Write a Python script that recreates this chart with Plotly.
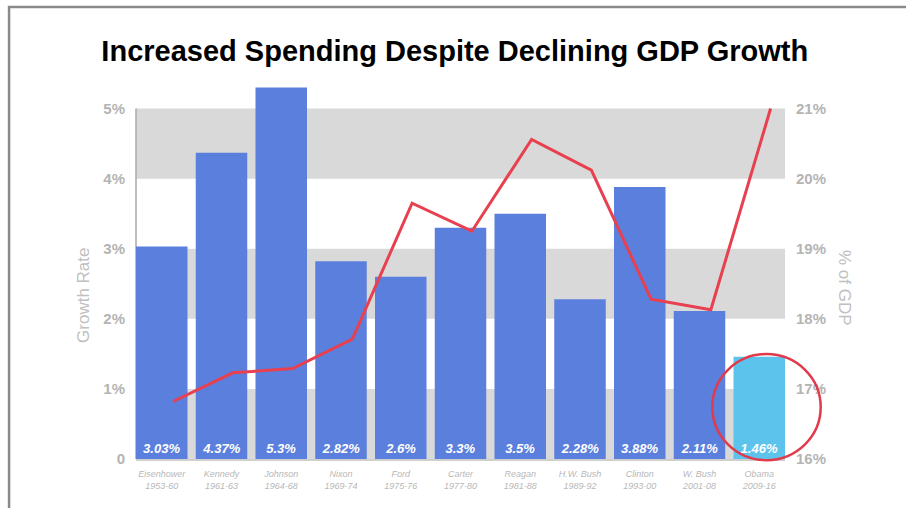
import plotly.graph_objects as go

# Presidential terms
presidents = ["Eisenhower", "Kennedy", "Johnson", "Nixon", "Ford", "Carter",
              "Reagan", "H.W. Bush", "Clinton", "W. Bush", "Obama"]
terms = ["1953-60", "1961-63", "1964-68", "1969-74", "1975-76", "1977-80",
         "1981-88", "1989-92", "1993-00", "2001-08", "2009-16"]

# Average real GDP growth per term (%)
gdp_growth = [3.03, 4.37, 5.3, 2.82, 2.6, 3.3, 3.5, 2.28, 3.88, 2.11, 1.46]

# Federal spending as share of GDP (%)
spending_pct_gdp = [16.82, 17.23, 17.29, 17.71, 19.65, 19.25, 20.56, 20.12, 18.28, 18.13, 21.0]

# Axis ticks
growth_ticks = [0, 1, 2, 3, 4, 5]
growth_ticktext = ["0", "1%", "2%", "3%", "4%", "5%"]
spend_ticks = [16, 17, 18, 19, 20, 21]
spend_ticktext = ["16%", "17%", "18%", "19%", "20%", "21%"]

BLUE = "#5b7fdc"
HIGHLIGHT = "#5cc4ec"
RED = "#e8404f"
BAND = "#d9d9d9"
AXIS_GREY = "#b4b4b4"
FONT = "Liberation Sans"

categories = [f"{p}<br>{t}" for p, t in zip(presidents, terms)]
bar_colors = [BLUE] * (len(presidents) - 1) + [HIGHLIGHT]

fig = go.Figure()

fig.add_trace(go.Bar(
    x=categories,
    y=gdp_growth,
    marker=dict(color=bar_colors, line=dict(width=0)),
    text=[f"{v}%" for v in gdp_growth],
    textposition="inside",
    insidetextanchor="start",
    textangle=0,
    constraintext="none",
    textfont=dict(family=FONT, size=13, color="white", weight="bold", style="italic"),
    xaxis="x",
    yaxis="y",
    hoverinfo="skip",
))

fig.add_trace(go.Scatter(
    x=categories,
    y=spending_pct_gdp,
    mode="lines",
    line=dict(color=RED, width=3),
    xaxis="x2",
    yaxis="y2",
    hoverinfo="skip",
))

Y_TOP = 5.35
X_PAD = 0.069        # half of the gap between bars, so outer bars sit flush with the frame
LINE_SHIFT = 0.19    # spending line is drawn slightly right of bar centres

# Alternating horizontal bands behind the bars
shapes = []
for lo in growth_ticks[:-1:2]:
    shapes.append(dict(type="rect", xref="paper", yref="y", x0=0, x1=1, y0=lo, y1=lo + 1,
                       fillcolor=BAND, line=dict(width=0), layer="below"))
# left axis rule
shapes.append(dict(type="line", xref="paper", yref="y", x0=0, x1=0, y0=0, y1=growth_ticks[-1],
                   line=dict(color="#a8a8a8", width=1.5), layer="below"))
# outer frame (top and left edges)
shapes.append(dict(type="path", xref="paper", yref="paper",
                   path="M -0.1956 -0.2 L -0.1956 1.2053 L 1.2 1.2053",
                   line=dict(color="#8a8a8a", width=2.5)))
# highlight ring around the latest term
shapes.append(dict(type="circle", xref="paper", yref="paper",
                   x0=0.888, x1=1.055, y0=-0.003, y1=0.28,
                   line=dict(color="#e03a4c", width=2.5), layer="above"))

fig.update_layout(
    width=906,
    height=508,
    margin=dict(l=136, r=121, t=84, b=49),
    paper_bgcolor="white",
    plot_bgcolor="white",
    showlegend=False,
    font=dict(family=FONT),
    bargap=2 * X_PAD,
    title=dict(
        text="<b>Increased Spending Despite Declining GDP Growth</b>",
        font=dict(family=FONT, size=29, color="black"),
        x=0.502, xanchor="center", xref="container",
        y=1 - 51 / 508, yanchor="middle", yref="container",
    ),
    xaxis=dict(
        type="category",
        range=[-0.5 + X_PAD, len(categories) - 0.5 - X_PAD],
        showgrid=False,
        zeroline=False,
        showline=True,
        linecolor="#cfcfcf",
        linewidth=2,
        ticks="",
        tickfont=dict(family=FONT, size=9, color="#b8b8b8", style="italic"),
        ticklabelstandoff=5,
        fixedrange=True,
    ),
    xaxis2=dict(
        type="category",
        overlaying="x",
        anchor="y2",
        range=[-0.5 + X_PAD - LINE_SHIFT, len(categories) - 0.5 - X_PAD - LINE_SHIFT],
        visible=False,
        fixedrange=True,
    ),
    yaxis=dict(
        range=[0, Y_TOP],
        tickvals=growth_ticks,
        ticktext=growth_ticktext,
        showgrid=False,
        zeroline=False,
        showline=False,
        ticks="",
        ticklabelstandoff=10,
        tickfont=dict(family=FONT, size=15, color=AXIS_GREY, weight="bold"),
        fixedrange=True,
    ),
    yaxis2=dict(
        overlaying="y",
        anchor="x2",
        side="right",
        range=[spend_ticks[0], spend_ticks[0] + Y_TOP],
        tickvals=spend_ticks,
        ticktext=spend_ticktext,
        showgrid=False,
        zeroline=False,
        showline=False,
        ticks="",
        ticklabelstandoff=10,
        tickfont=dict(family=FONT, size=15, color=AXIS_GREY, weight="bold"),
        fixedrange=True,
    ),
    shapes=shapes,
    annotations=[
        dict(text="Growth Rate", xref="paper", yref="paper", x=-0.080, y=0.435,
             textangle=-90, showarrow=False, xanchor="center", yanchor="middle",
             font=dict(family=FONT, size=17, color="#c0c0c0")),
        dict(text="% of GDP", xref="paper", yref="paper", x=1.0925, y=0.456,
             textangle=90, showarrow=False, xanchor="center", yanchor="middle",
             font=dict(family=FONT, size=17, color="#c0c0c0")),
    ],
)

fig.write_html("out.html")
